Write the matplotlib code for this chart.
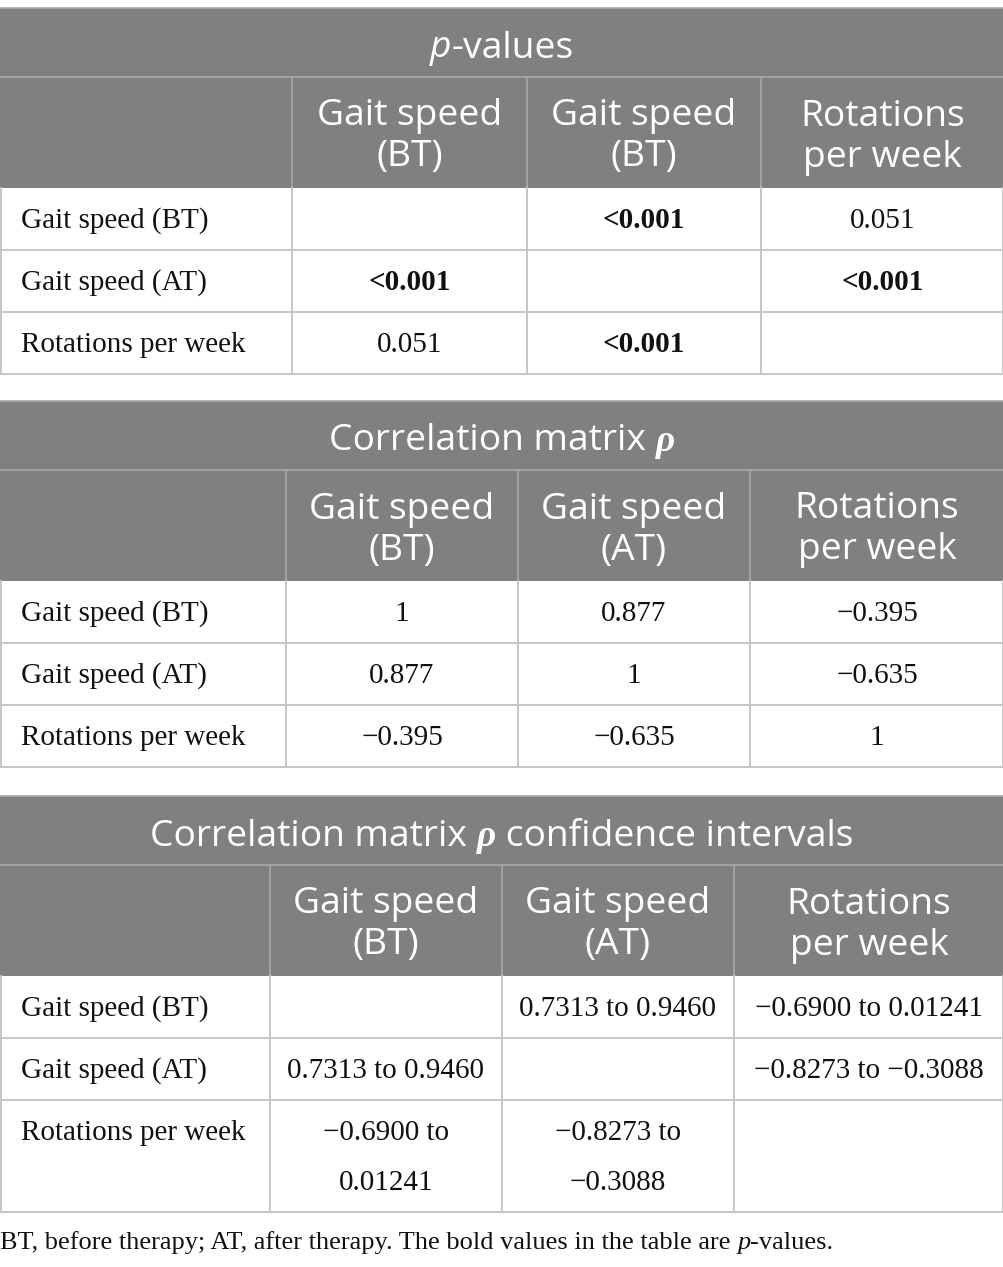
import matplotlib
matplotlib.use("Agg")
import matplotlib.pyplot as plt
from matplotlib.patches import Rectangle

# ---------------- data ----------------
row_labels = ["Gait speed (BT)", "Gait speed (AT)", "Rotations per week"]
headers_p = ["Gait speed\n(BT)", "Gait speed\n(BT)", "Rotations\nper week"]
headers_rho = ["Gait speed\n(BT)", "Gait speed\n(AT)", "Rotations\nper week"]
p_values = [["", "<0.001", "0.051"],
            ["<0.001", "", "<0.001"],
            ["0.051", "<0.001", ""]]
p_bold = [[False, True, False],
          [True, False, True],
          [False, True, False]]
rho_values = [["1", "0.877", "\u22120.395"],
              ["0.877", "1", "\u22120.635"],
              ["\u22120.395", "\u22120.635", "1"]]
ci_values = [["", "0.7313 to 0.9460", "\u22120.6900 to 0.01241"],
             ["0.7313 to 0.9460", "", "\u22120.8273 to \u22120.3088"],
             ["\u22120.6900 to\n0.01241", "\u22120.8273 to\n\u22120.3088", ""]]
caption_parts = [("BT, before therapy; AT, after therapy. The bold values in the table are ", "normal"),
                 ("p", "italic"), ("-values.", "normal")]

# ---------------- style ----------------
W, H = 1004, 1267
HEAD = "#808080"
HEAD_LINE = "#a8a8a8"
BODY_LINE = "#c6c6c6"
SANS = "Open Sans"
SERIF = "Liberation Serif"
HS = 26.8    # header font size
BS = 21      # body font size
TXT = "#111111"

fig = plt.figure(figsize=(W / 100, H / 100), dpi=100)
ax = fig.add_axes([0, 0, 1, 1])
ax.set_xlim(0, W)
ax.set_ylim(H, 0)
ax.axis("off")
renderer = fig.canvas.get_renderer()


def composite(parts, xc, y, **kw):
    """Draw a sequence of (text, fontkw) pieces centred at xc."""
    objs = []
    widths = []
    for s, fk in parts:
        t = ax.text(0, y, s, va="center", ha="left", **kw, **fk)
        w = t.get_window_extent(renderer).width
        objs.append(t)
        widths.append(w)
    x = xc - sum(widths) / 2
    for t, w in zip(objs, widths):
        t.set_x(x)
        x += w


def draw_table(top, col_x, title_parts, headers, cells, bold=None,
               row_h=(62, 62, 62)):
    title_h = 69
    head_h = 111
    ax.add_patch(Rectangle((0, top), W, title_h + head_h, facecolor=HEAD, edgecolor="none"))
    ax.plot([0, W], [top, top], color=HEAD_LINE, lw=1.2)
    y1 = top + title_h
    ax.plot([0, W], [y1, y1], color=HEAD_LINE, lw=1.2)
    y2 = y1 + head_h
    for cx in col_x[1:-1]:
        ax.plot([cx, cx], [y1, y2], color=HEAD_LINE, lw=1.2)
    composite(title_parts, W / 2, top + title_h / 2 + 6, color="white", fontsize=HS)
    for j, h in enumerate(headers):
        xc = (col_x[j + 1] + col_x[j + 2]) / 2
        lines = h.split("\n")
        ax.text(xc, y1 + head_h / 2 - 16, lines[0], ha="center", va="center",
                color="white", fontsize=HS, family=SANS)
        ax.text(xc, y1 + head_h / 2 + 25, lines[1], ha="center", va="center",
                color="white", fontsize=HS, family=SANS)
    y = y2
    for i, lab in enumerate(row_labels):
        rh = row_h[i]
        ytxt = y + 33
        ax.text(21, ytxt, lab, ha="left", va="center", fontsize=BS, family=SERIF, color=TXT)
        for j in range(3):
            xc = (col_x[j + 1] + col_x[j + 2]) / 2
            s = cells[i][j]
            if not s:
                continue
            fw = "bold" if (bold is not None and bold[i][j]) else "normal"
            for k, ln in enumerate(s.split("\n")):
                ax.text(xc, ytxt + 50 * k, ln, ha="center", va="center", fontsize=BS,
                        family=SERIF, fontweight=fw, color=TXT)
        y += rh
        ax.plot([0, W], [y, y], color=BODY_LINE, lw=1.4)
    for cx in col_x[1:-1]:
        ax.plot([cx, cx], [y2, y], color=BODY_LINE, lw=1.4)
    ax.plot([0.7, 0.7], [y2, y], color=BODY_LINE, lw=1.4)
    ax.plot([W - 0.7, W - 0.7], [y2, y], color=BODY_LINE, lw=1.4)


draw_table(8, [0, 292, 527, 761, W],
           [("p", dict(family=SANS, style="italic")), ("-values", dict(family=SANS))],
           headers_p, p_values, bold=p_bold)
draw_table(401, [0, 286, 518, 750, W],
           [("Correlation matrix ", dict(family=SANS)),
            ("\u03c1", dict(family=SERIF, style="italic", fontweight="bold"))],
           headers_rho, rho_values)
draw_table(796, [0, 270, 502, 734, W],
           [("Correlation matrix ", dict(family=SANS)),
            ("\u03c1", dict(family=SERIF, style="italic", fontweight="bold")),
            (" confidence intervals", dict(family=SANS))],
           headers_rho, ci_values, row_h=(62, 62, 112))

# caption
x = 0
for s, st in caption_parts:
    t = ax.text(x, 1243, s, ha="left", va="center", fontsize=19, family=SERIF,
                style=st, color=TXT)
    x += t.get_window_extent(renderer).width

fig.savefig("out.png", dpi=100)
